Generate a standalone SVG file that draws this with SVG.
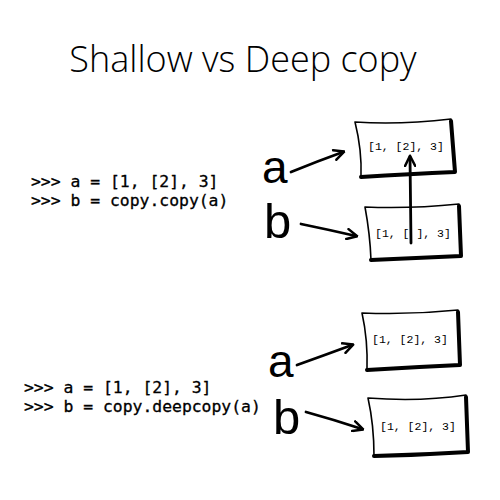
<svg xmlns="http://www.w3.org/2000/svg" width="500" height="500" viewBox="0 0 500 500">
<style>
.title{font-family:"Open Sans","DejaVu Sans",sans-serif;font-weight:300;font-size:36px;fill:#000}
.code{font-family:"DejaVu Sans Mono",monospace;font-size:16.4px;fill:#000;stroke:#000;stroke-width:0.3}
.val{font-family:"Liberation Mono","DejaVu Sans Mono",monospace;font-size:11.5px;fill:#000}
.va{font-family:"Liberation Sans",sans-serif;font-size:46px;fill:#000}
.vb{font-family:"Liberation Sans",sans-serif;font-size:49px;fill:#000}
.box{fill:#fff;stroke:#000;stroke-width:1.6;stroke-linejoin:round}
.shadow{fill:none;stroke:#000;stroke-width:4;stroke-linecap:round;stroke-linejoin:round}
.arrow{fill:none;stroke:#000;stroke-width:2.8;stroke-linecap:round}
</style>
<defs>
<marker id="ah" viewBox="0 0 10 10" refX="8" refY="5" markerWidth="4.5" markerHeight="4.5" orient="auto" markerUnits="strokeWidth">
<path d="M1,1 L9,5 L1,9" fill="none" stroke="#000" stroke-width="2" stroke-linecap="round" stroke-linejoin="round"/>
</marker>
</defs>
<rect width="500" height="500" fill="#fff"/>
<text class="title" x="243" y="72" text-anchor="middle">Shallow vs Deep copy</text>

<g id="code-shallow">
<text class="code" x="31" y="187">&gt;&gt;&gt; a = [1, [2], 3]</text>
<text class="code" x="31" y="206">&gt;&gt;&gt; b = copy.copy(a)</text>
</g>
<g id="code-deep">
<text class="code" x="24" y="393">&gt;&gt;&gt; a = [1, [2], 3]</text>
<text class="code" x="24" y="412">&gt;&gt;&gt; b = copy.deepcopy(a)</text>
</g>

<g id="var-a1"><text class="va" x="262" y="183">a</text></g>
<g id="var-b1"><text class="vb" x="264" y="238">b</text></g>
<g id="var-a2"><text class="va" x="268" y="377">a</text></g>
<g id="var-b2"><text class="vb" x="273" y="434">b</text></g>

<g id="box1">
<path class="box" d="M355,122 Q400,125 451,119 L455,172 Q410,174 361,177 Q362,150 355,122 Z"/>
<path class="shadow" d="M451,121 L455,172 Q410,174 361,177"/>
<text class="val" x="368" y="150">[1, [2], 3]</text>
</g>
<g id="box2">
<path class="box" d="M365,207 Q410,209 459,204 L461,256 Q415,258 371,260 Q370,234 365,207 Z"/>
<path class="shadow" d="M459,206 L461,256 Q415,258 371,260"/>
<text class="val" x="375" y="237">[1, [ ], 3]</text>
</g>
<g id="box3">
<path class="box" d="M362,313 Q410,315 458,310 L460,365 Q415,367 367,370 Q368,340 362,313 Z"/>
<path class="shadow" d="M458,312 L460,365 Q415,367 367,370"/>
<text class="val" x="372" y="343">[1, [2], 3]</text>
</g>
<g id="box4">
<path class="box" d="M368,398 Q420,402 466,395 L468,452 Q420,455 374,456 Q374,425 368,398 Z"/>
<path class="shadow" d="M466,397 L468,452 Q420,455 374,456"/>
<text class="val" x="380" y="430">[1, [2], 3]</text>
</g>

<g id="connectors">
<path class="arrow" d="M291,172 Q318,161 343,152" marker-end="url(#ah)"/>
<path class="arrow" d="M301,224 Q330,230 356,236" marker-end="url(#ah)"/>
<path class="arrow" d="M411,243 L410,157" marker-end="url(#ah)"/>
<path class="arrow" d="M297,365 Q325,355 352,345" marker-end="url(#ah)"/>
<path class="arrow" d="M306,412 Q335,420 362,429" marker-end="url(#ah)"/>
</g>
</svg>
